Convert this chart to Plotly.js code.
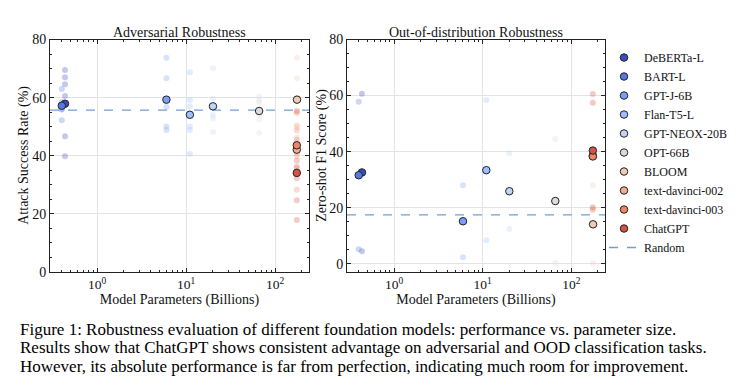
<!DOCTYPE html>
<html>
<head>
<meta charset="utf-8">
<script src="https://cdn.plot.ly/plotly-3.0.1.min.js"></script>
<style>html,body{margin:0;padding:0;background:#fff;}#chart{width:741px;height:390px;}</style>
</head>
<body>
<div id="chart"></div>
<script>
// ---- data ----
const models = ['DeBERTa-L','BART-L','GPT-J-6B','Flan-T5-L','GPT-NEOX-20B','OPT-66B','BLOOM','text-davinci-002','text-davinci-003','ChatGPT'];
const paramsBillions = [0.435, 0.40, 6, 11, 20, 66, 176, 175, 175, 175];
const colors = ['#3b4cc0','#5977e3','#7b9ff9','#9ebeff','#c0d4f5','#dddcdc','#f2cbb7','#f7ac8e','#ee8468','#d65244'];

// Adversarial: attack success rate (%) per dataset, and model average
const advDatasetScores = [
  [69.5, 67.0, 64.6, 60.6, 46.7, 39.8],
  [63.0, 58.5, 57.5, 56.0, 55.9, 52.2],
  [73.7, 66.7, 59.6, 56.8, 50.1, 48.9],
  [68.7, 59.2, 57.0, 50.1, 48.9, 40.7],
  [70.1, 59.7, 57.0, 54.1, 52.9, 48.2],
  [60.5, 59.0, 58.4, 54.1, 52.6, 47.8],
  [73.7, 66.7, 60.0, 55.6, 50.1, 49.7],
  [50.5, 46.3, 44.4, 39.8, 36.5, 35.1],
  [54.7, 48.7, 45.5, 43.7, 40.7, 28.3],
  [55.3, 38.4, 36.0, 32.3, 24.7, 17.9]
];
const advMean = [57.9, 57.2, 59.3, 54.1, 57.0, 55.4, 59.3, 42.1, 43.6, 34.1];
const advRandom = 55.7;

// OOD: zero-shot F1 (%) per dataset, and model average
const oodDatasetScores = [
  [60.7, 4.5],
  [57.8, 5.2],
  [28.0, 2.4],
  [58.3, 8.4],
  [39.4, 12.4],
  [44.5, 0.3],
  [28.0, 0.1],
  [57.6, 19.6],
  [57.4, 19.2],
  [60.6, 20.2]
];
const oodMean = [32.6, 31.6, 15.2, 33.4, 25.9, 22.4, 14.1, 38.6, 38.3, 40.4];
const oodRandom = 17.5;

const xTickVals = [1, 10, 100];
const xTickText = ['10<sup>0</sup>', '10<sup>1</sup>', '10<sup>2</sup>'];
const xMin = 0.295, xMax = 240;

const panelTitles = ['Adversarial Robustness', 'Out-of-distribution Robustness'];
const yTitles = ['Attack Success Rate (%)', 'Zero-shot F1 Score (%)'];
const xTitle = 'Model Parameters (Billions)';

const captionLines = [
  'Figure 1: Robustness evaluation of different foundation models: performance vs. parameter size.',
  'Results show that ChatGPT shows consistent advantage on adversarial and OOD classification tasks.',
  'However, its absolute performance is far from perfection, indicating much room for improvement.'
];

// ---- build traces ----
const FONT = 'Liberation Serif, Times New Roman, serif';
const traces = [];
function addPanel(dataset, means, randomVal, xa, ya, legend) {
  models.forEach((m, i) => {
    traces.push({
      type: 'scatter', mode: 'markers', xaxis: xa, yaxis: ya,
      x: dataset[i].map(() => paramsBillions[i]), y: dataset[i],
      marker: {color: colors[i], size: 6, opacity: 0.3},
      showlegend: false, hoverinfo: 'skip'
    });
  });
  traces.push({
    type: 'scatter', mode: 'lines', xaxis: xa, yaxis: ya,
    x: [xMin, xMax], y: [randomVal, randomVal],
    line: {color: '#6f9fd8', dash: 'dash', width: 1.3},
    name: 'Random', showlegend: legend, legendrank: 1000
  });
  models.forEach((m, i) => {
    traces.push({
      type: 'scatter', mode: 'markers', xaxis: xa, yaxis: ya,
      x: [paramsBillions[i]], y: [means[i]],
      marker: {color: colors[i], size: 7.5, line: {color: '#222', width: 1}},
      name: m, showlegend: legend, legendrank: i + 1
    });
  });
}
addPanel(advDatasetScores, advMean, advRandom, 'x', 'y', false);
addPanel(oodDatasetScores, oodMean, oodRandom, 'x2', 'y2', true);

const W = 741, H = 390;
function xaxisCfg(d) {
  return {
    domain: d, type: 'log', range: [Math.log10(xMin), Math.log10(xMax)],
    tickvals: xTickVals, ticktext: xTickText,
    ticks: 'inside', ticklen: 4, tickcolor: '#222', mirror: 'allticks',
    showline: true, linecolor: '#222', linewidth: 1,
    showgrid: true, gridcolor: '#e3e3e3', gridwidth: 1, zeroline: false,
    minor: {ticks: 'inside', ticklen: 2, dtick: 'D1', tickcolor: '#222', showgrid: false},
    tickfont: {family: FONT, size: 13.5, color: '#111'},
    title: {text: xTitle, font: {family: FONT, size: 14, color: '#111'}, standoff: 0},
    automargin: false
  };
}
function yaxisCfg(r) {
  return {
    domain: [(H - 272) / H, (H - 39.5) / H], range: r, dtick: 20, tick0: 0,
    ticks: 'inside', ticklen: 4, tickcolor: '#222', mirror: 'allticks',
    showline: true, linecolor: '#222', linewidth: 1,
    showgrid: true, gridcolor: '#e3e3e3', gridwidth: 1, zeroline: false,
    minor: {ticks: 'inside', ticklen: 2, dtick: 5, tickcolor: '#222', showgrid: false},
    tickfont: {family: FONT, size: 14, color: '#111'},
    automargin: false
  };
}

const yMid = 1 - ((272 + 39.5) / 2) / H;
const annotations = [
  {text: panelTitles[0], xref: 'paper', yref: 'paper', x: (50 + 309) / 2 / W, y: 1 - 32 / H,
   showarrow: false, xanchor: 'center', yanchor: 'middle', font: {family: FONT, size: 14, color: '#111'}},
  {text: panelTitles[1], xref: 'paper', yref: 'paper', x: (347 + 605) / 2 / W, y: 1 - 32 / H,
   showarrow: false, xanchor: 'center', yanchor: 'middle', font: {family: FONT, size: 14, color: '#111'}},
  {text: yTitles[0], xref: 'paper', yref: 'paper', x: 24 / W, y: yMid, textangle: -90,
   showarrow: false, xanchor: 'center', yanchor: 'middle', font: {family: FONT, size: 14, color: '#111'}},
  {text: yTitles[1], xref: 'paper', yref: 'paper', x: 322 / W, y: yMid, textangle: -90,
   showarrow: false, xanchor: 'center', yanchor: 'middle', font: {family: FONT, size: 14, color: '#111'}}
];
captionLines.forEach((t, i) => {
  annotations.push({text: t, xref: 'paper', yref: 'paper', x: 18 / W, y: 1 - (329 + 18.5 * i) / H,
    showarrow: false, xanchor: 'left', yanchor: 'middle', font: {family: FONT, size: 17, color: '#000'}});
});

const layout = {
  width: W, height: H, margin: {l: 0, r: 0, t: 0, b: 0},
  paper_bgcolor: '#fff', plot_bgcolor: '#fff',
  font: {family: FONT},
  xaxis: Object.assign(xaxisCfg([50 / W, 309 / W]), {anchor: 'y'}),
  yaxis: Object.assign(yaxisCfg([0, 80]), {anchor: 'x'}),
  xaxis2: Object.assign(xaxisCfg([347 / W, 605 / W]), {anchor: 'y2'}),
  yaxis2: Object.assign(yaxisCfg([-2.9, 80]), {anchor: 'x2'}),
  showlegend: true,
  legend: {x: 604 / W, y: 1 - 43 / H, xanchor: 'left', yanchor: 'top',
    font: {family: FONT, size: 12, color: '#111'}, bgcolor: 'rgba(0,0,0,0)',
    itemwidth: 30, tracegroupgap: 0, traceorder: 'normal'},
  annotations: annotations
};

Plotly.newPlot('chart', traces, layout, {staticPlot: true, displayModeBar: false});
</script>
</body>
</html>
